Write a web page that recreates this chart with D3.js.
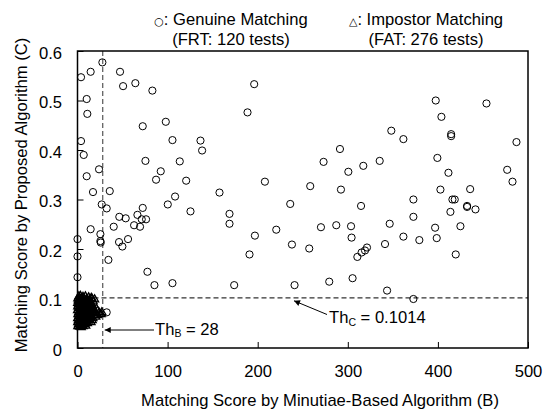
<!DOCTYPE html>
<html>
<head>
<meta charset="utf-8">
<script src="https://cdn.jsdelivr.net/npm/d3@7"></script>
<style>
  html, body { margin: 0; padding: 0; background: #fff; }
  svg { display: block; font-family: "Liberation Sans", Arial, Helvetica, sans-serif; }
</style>
</head>
<body>
<svg id="chart" width="551" height="415"></svg>
<script>
// ---- Data ----
const xTicks = [0, 100, 200, 300, 400, 500];
const yTicks = [0, 0.1, 0.2, 0.3, 0.4, 0.5, 0.6];
const thresholdB = 28;
const thresholdC = 0.1014;
const legendGenuine = ["Genuine Matching", "(FRT: 120 tests)"];
const legendImpostor = ["Impostor Matching", "(FAT: 276 tests)"];
const xTitle = "Matching Score by Minutiae-Based Algorithm (B)";
const yTitle = "Matching Score by Proposed Algorithm (C)";

// Genuine matching scores [B, C]
const genuine = [
  [27.6,0.577],[14.6,0.558],[3.9,0.547],[47.2,0.558],[50.6,0.529],[64.2,0.535],[83.1,0.520],[196.1,0.533],
  [10.2,0.503],[10.9,0.473],[188.7,0.476],[72.4,0.448],[98,0.457],[3.9,0.418],[105.4,0.420],[136.5,0.419],
  [6.9,0.390],[138.3,0.399],[75.4,0.378],[113.5,0.377],[23.9,0.361],[92.4,0.357],[10.2,0.347],[87.2,0.340],
  [120.6,0.338],[208,0.336],[17.2,0.315],[35.8,0.317],[157.6,0.314],[108.3,0.306],
  [397.6,0.500],[453.9,0.494],[403.9,0.467],[348.3,0.439],[361.7,0.422],[414.7,0.432],[414.7,0.428],[487.2,0.416],
  [291.3,0.402],[273.1,0.376],[300.6,0.356],[317.2,0.368],[335.4,0.378],[399.4,0.384],[411.7,0.354],[476.9,0.360],
  [482.8,0.336],[258.3,0.327],[292.4,0.320],[402.8,0.320],[435.8,0.321],[372.8,0.300],[416.1,0.300],[418.7,0.300],
  [26.9,0.290],[32.4,0.282],[72.4,0.283],[100.2,0.290],[236.1,0.291],[125.4,0.276],[46.4,0.265],[53.5,0.262],
  [66.5,0.269],[71.3,0.260],[76.1,0.260],[62.8,0.248],[69.4,0.245],[40.2,0.245],[14.6,0.240],[25.4,0.230],
  [25.4,0.216],[25.8,0.213],[46.1,0.214],[49.8,0.205],[56.1,0.220],[34.3,0.178],[77.6,0.154],[85.4,0.127],
  [105.4,0.131],[168.7,0.271],[168.7,0.251],[220.6,0.239],[196.9,0.227],[238,0.209],[190.9,0.189],[173.9,0.127],
  [240.9,0.127],[0,0.220],[0,0.185],[0,0.143],[32.4,0.072],
  [314.7,0.287],[432.4,0.287],[432.4,0.285],[441.7,0.280],[413.9,0.275],[372.8,0.265],[270.2,0.244],[287.2,0.248],
  [303.6,0.246],[346.5,0.251],[396.9,0.243],[425,0.246],[304.2,0.223],[361.7,0.225],[379.4,0.218],[398.7,0.222],
  [341.3,0.210],[257.2,0.201],[321.3,0.203],[319.1,0.197],[315.3,0.193],[310.6,0.184],[419.8,0.189],[279.4,0.134],
  [305.3,0.141],[343.6,0.116],[372.8,0.099]
];

// Impostor matching scores [B, C] (dense cluster near the origin, estimated)
const impostor = [
  [1.5,.104],[3.2,.105],[6.1,.103],[8.8,.104],[12.4,.102],[15.3,.101],
  [0.4,.100],[2.3,.099],[4.6,.100],[7.2,.098],[10.1,.099],[13.3,.097],[16.2,.099],[19.0,.098],
  [0.8,.096],[1.9,.094],[3.7,.095],[5.4,.096],[8.3,.094],[11.2,.095],[14.1,.093],[17.4,.094],
  [0.2,.091],[2.6,.092],[4.2,.090],[6.5,.091],[9.3,.089],[12.1,.092],[15.2,.090],
  [1.1,.088],[3.4,.087],[5.3,.086],[7.6,.088],[10.4,.086],[13.6,.087],[16.5,.085],
  [0.3,.084],[2.2,.083],[4.1,.085],[6.3,.082],[8.4,.084],[11.3,.083],[14.5,.082],[17.3,.081],
  [1.2,.080],[3.3,.079],[5.2,.080],[7.4,.078],[9.1,.080],[12.2,.079],[15.4,.078],[18.3,.077],[21.0,.079],
  [0.1,.076],[2.4,.075],[4.3,.077],[6.2,.074],[8.1,.076],[10.3,.075],[13.2,.074],[16.1,.076],[19.2,.073],[22.3,.075],
  [1.3,.072],[3.1,.071],[5.1,.073],[7.3,.070],[9.4,.072],[11.4,.071],[14.3,.069],[17.2,.072],[20.4,.070],[24.1,.071],[27.0,.072],
  [0.5,.068],[2.1,.067],[4.4,.066],[6.4,.068],[8.2,.065],[10.2,.067],[12.3,.066],[15.1,.064],[18.1,.067],[22.1,.066],[26.2,.068],
  [1.4,.064],[3.5,.063],[5.5,.062],[7.1,.064],[9.2,.061],[11.1,.063],[14.2,.062],[17.1,.060],[20.2,.063],
  [0.2,.060],[2.5,.059],[4.5,.058],[6.1,.060],[8.5,.057],[10.5,.059],[13.1,.058],[16.3,.056],
  [1.0,.056],[3.0,.055],[5.0,.054],[7.0,.056],[9.0,.053],[12.0,.055],[15.0,.052],
  [0.3,.052],[2.2,.051],[4.0,.050],[6.0,.052],[8.0,.049],[11.0,.050],
  [1.2,.048],[3.1,.047],[5.2,.046],[7.2,.048],[9.1,.045],
  [0.4,.044],[2.3,.043],[4.1,.042],[6.2,.044]
];

// ---- Layout ----
const FS = 16.6;
const svg = d3.select("#chart");
const W = 551, H = 415;
const plot = { left: 77.5, right: 528, top: 51, bottom: 348 };
svg.append("rect").attr("width", W).attr("height", H).attr("fill", "#fff");

const x = d3.scaleLinear().domain([0, 500]).range([plot.left, plot.right]);
const y = d3.scaleLinear().domain([0, 0.6]).range([plot.bottom, plot.top]);

const defs = svg.append("defs");
defs.append("marker").attr("id", "arrow")
  .attr("viewBox", "0 0 10 10").attr("refX", 10).attr("refY", 5)
  .attr("markerWidth", 7).attr("markerHeight", 6).attr("markerUnits", "userSpaceOnUse")
  .attr("orient", "auto")
  .append("path").attr("d", "M0,0 L10,5 L0,10 z").attr("fill", "#000");

// Axes (inward ticks)
const xAxis = d3.axisBottom(x).tickValues(xTicks).tickFormat(d3.format("d"))
  .tickSizeInner(-6).tickSizeOuter(0).tickPadding(17.3);
const gx = svg.append("g").attr("transform", `translate(0,${plot.bottom})`).call(xAxis);
const yAxis = d3.axisLeft(y).tickValues(yTicks).tickFormat(d => d === 0 ? "0" : d3.format(".1f")(d))
  .tickSizeInner(-6).tickSizeOuter(0).tickPadding(15.5);
const gy = svg.append("g").attr("transform", `translate(${plot.left},0)`).call(yAxis);
[gx, gy].forEach(g => {
  g.select(".domain").remove();
  g.selectAll("text").attr("font-size", FS).attr("fill", "#000")
    .attr("font-family", "Liberation Sans, Arial, sans-serif");
  g.selectAll("line").attr("stroke", "#000").attr("stroke-width", 1);
});
gy.selectAll("text").attr("dy", "0.45em");

// Threshold lines
svg.append("line")
  .attr("x1", x(thresholdB)).attr("x2", x(thresholdB))
  .attr("y1", y(0.6)).attr("y2", y(0))
  .attr("stroke", "#555").attr("stroke-width", 1.2).attr("stroke-dasharray", "5,3");
svg.append("line")
  .attr("x1", x(0)).attr("x2", x(500))
  .attr("y1", y(thresholdC)).attr("y2", y(thresholdC))
  .attr("stroke", "#333").attr("stroke-width", 1.2).attr("stroke-dasharray", "5,3");

// Impostor triangles
const tri = d3.symbol().type(d3.symbolTriangle).size(28);
svg.append("g").selectAll("path").data(impostor).join("path")
  .attr("d", tri)
  .attr("transform", d => `translate(${x(d[0])},${y(d[1])})`)
  .attr("fill", "none").attr("stroke", "#000").attr("stroke-width", 1.3);

// Genuine circles
svg.append("g").selectAll("circle").data(genuine).join("circle")
  .attr("cx", d => x(d[0])).attr("cy", d => y(d[1])).attr("r", 3.6)
  .attr("fill", "none").attr("stroke", "#000").attr("stroke-width", 1);

// Frame
svg.append("rect")
  .attr("x", plot.left).attr("y", plot.top)
  .attr("width", plot.right - plot.left).attr("height", plot.bottom - plot.top)
  .attr("fill", "none").attr("stroke", "#000").attr("stroke-width", 1.5);

// Annotations
svg.append("line")
  .attr("x1", 154).attr("y1", 330).attr("x2", x(thresholdB) + 2).attr("y2", 330)
  .attr("stroke", "#000").attr("stroke-width", 1).attr("marker-end", "url(#arrow)");
const tb = svg.append("text").attr("x", 155).attr("y", 334.5).attr("font-size", FS).attr("fill", "#000");
tb.append("tspan").text("Th");
tb.append("tspan").attr("font-size", 10.5).attr("dy", 2.5).text("B");
tb.append("tspan").attr("dy", -2.5).text(" = 28");

svg.append("line")
  .attr("x1", 327).attr("y1", 314.5).attr("x2", 294).attr("y2", y(thresholdC) + 3)
  .attr("stroke", "#000").attr("stroke-width", 1).attr("marker-end", "url(#arrow)");
const tc = svg.append("text").attr("x", 329).attr("y", 323).attr("font-size", FS).attr("fill", "#000");
tc.append("tspan").text("Th");
tc.append("tspan").attr("font-size", 10.5).attr("dy", 2.5).text("C");
tc.append("tspan").attr("dy", -2.5).text(" = 0.1014");

// Legend
function legend(cx, symbol, lines) {
  const t1 = svg.append("text").attr("x", cx).attr("y", 25).attr("text-anchor", "middle")
    .attr("font-size", FS).attr("fill", "#000");
  t1.append("tspan").attr("font-size", 11).attr("font-family", "DejaVu Sans, sans-serif").text(symbol);
  t1.append("tspan").text(": " + lines[0]);
  svg.append("text").attr("x", cx).attr("y", 45).attr("text-anchor", "middle")
    .attr("font-size", FS).attr("fill", "#000").text(lines[1]);
}
legend(231, "○", legendGenuine);
legend(426, "△", legendImpostor);

// Axis titles
svg.append("text").attr("x", 320).attr("y", 406).attr("text-anchor", "middle")
  .attr("font-size", FS).attr("fill", "#000").text(xTitle);
svg.append("text").attr("transform", "translate(27,195) rotate(-90)").attr("text-anchor", "middle")
  .attr("font-size", FS).attr("fill", "#000").text(yTitle);
</script>
</body>
</html>
